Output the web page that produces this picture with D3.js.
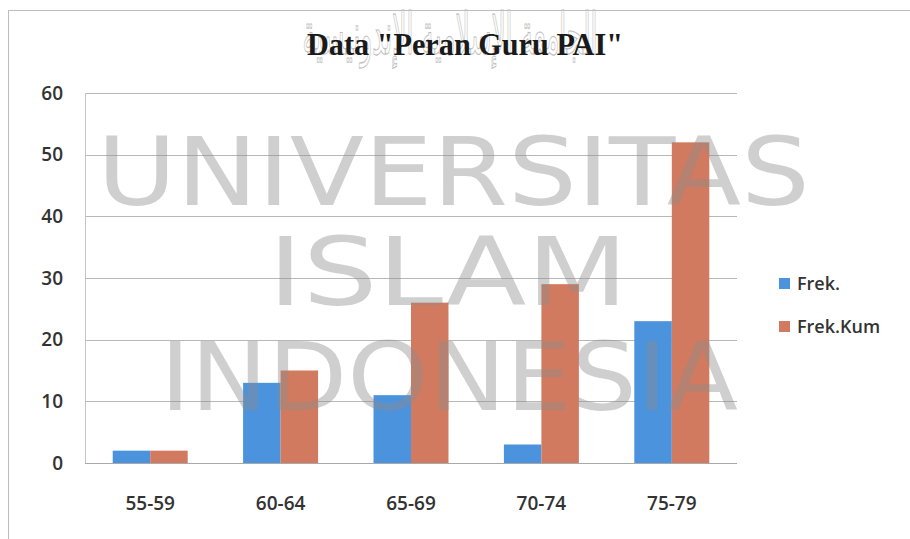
<!DOCTYPE html>
<html>
<head>
<meta charset="utf-8">
<script src="https://cdn.jsdelivr.net/npm/d3@7"></script>
<style>
  body { margin: 0; background: #fff; }
  svg { display: block; }
</style>
</head>
<body>
<svg id="chart" width="910" height="539"></svg>
<script>
// Data
const categories = ['55-59', '60-64', '65-69', '70-74', '75-79'];
const seriesNames = ['Frek.', 'Frek.Kum'];
const frek = [2, 13, 11, 3, 23];
const frekKum = [2, 15, 26, 29, 52];
const yTicks = [0, 10, 20, 30, 40, 50, 60];

const colors = ['#4b93dc', '#d27a60'];

const svg = d3.select('#chart');

// outer chart frame
svg.append('rect')
  .attr('x', 8.5).attr('y', 10.5)
  .attr('width', 920).attr('height', 560)
  .attr('fill', 'none')
  .attr('stroke', '#bdbdbd');

const margin = {top: 93, left: 85, right: 173, bottom: 76};
const width = 910 - margin.left - margin.right,
      height = 539 - margin.top - margin.bottom;

const g = svg.append('g').attr('transform', 'translate(' + margin.left + ',' + margin.top + ')');

const x0 = d3.scaleBand().domain(categories).range([0, width]).paddingInner(0.425).paddingOuter(0.2125);
const x1 = d3.scaleBand().domain(seriesNames).range([0, x0.bandwidth()]);
const y = d3.scaleLinear().domain([0, 60]).range([height, 0]);

// gridlines
g.append('g')
  .selectAll('line')
  .data(yTicks)
  .enter()
  .append('line')
  .attr('x1', 0).attr('x2', width)
  .attr('y1', d => Math.round(y(d)) + 0.5)
  .attr('y2', d => Math.round(y(d)) + 0.5)
  .attr('stroke', d => d === 0 ? '#a8a8a8' : '#b8b8b8')
  .attr('stroke-width', 1.2);

// left axis line
g.append('line')
  .attr('x1', 0.5).attr('x2', 0.5)
  .attr('y1', 0).attr('y2', height)
  .attr('stroke', '#c4c4c4');

const labelFont = 'Open Sans, sans-serif';

// y axis labels
const yAxis = d3.axisLeft(y).tickValues(yTicks).tickSize(0).tickPadding(22);
g.append('g')
  .call(yAxis)
  .call(a => a.select('.domain').remove())
  .selectAll('text')
  .attr('font-family', labelFont)
  .attr('font-weight', 600)
  .attr('font-size', 19)
  .attr('fill', '#333');

// x axis labels
const xAxis = d3.axisBottom(x0).tickSize(0).tickPadding(34);
g.append('g')
  .attr('transform', 'translate(0,' + height + ')')
  .call(xAxis)
  .call(a => a.select('.domain').remove())
  .selectAll('text')
  .attr('font-family', labelFont)
  .attr('font-weight', 600)
  .attr('font-size', 19)
  .attr('fill', '#333');

// bars
const rows = categories.map((c, i) => ({cat: c, values: [frek[i], frekKum[i]]}));

g.selectAll('g.group')
  .data(rows)
  .enter()
  .append('g')
  .attr('class', 'group')
  .attr('transform', d => 'translate(' + x0(d.cat) + ',0)')
  .selectAll('rect')
  .data(d => d.values.map((v, j) => ({name: seriesNames[j], value: v, idx: j})))
  .enter()
  .append('rect')
  .attr('x', d => x1(d.name))
  .attr('y', d => y(d.value))
  .attr('width', x1.bandwidth())
  .attr('height', d => height - y(d.value))
  .attr('fill', d => colors[d.idx]);

// legend
const legend = svg.append('g').attr('transform', 'translate(779, 284)');
seriesNames.forEach((name, i) => {
  const row = legend.append('g').attr('transform', 'translate(0,' + (i * 43) + ')');
  row.append('rect')
    .attr('x', 0).attr('y', -6)
    .attr('width', 11).attr('height', 11)
    .attr('fill', colors[i]);
  row.append('text')
    .attr('x', 18).attr('y', 0)
    .attr('dy', '0.35em')
    .attr('font-family', labelFont)
    .attr('font-weight', 600)
    .attr('font-size', 18)
    .attr('fill', '#333')
    .text(name);
});

// arabic watermark behind the title (stretched tall like the calligraphy)
svg.append('g')
  .attr('transform', 'translate(450, 54) scale(1, 1.7)')
  .append('text')
  .attr('x', 0).attr('y', 0)
  .attr('text-anchor', 'middle')
  .attr('font-family', 'DejaVu Sans, sans-serif')
  .attr('font-size', 34)
  .attr('fill', 'none')
  .attr('stroke', '#bdbdbd')
  .attr('stroke-width', 0.7)
  .attr('textLength', 295)
  .attr('lengthAdjust', 'spacingAndGlyphs')
  .text('الجامعة الإسلامية الإندونيسية');

// title
svg.append('text')
  .attr('x', 465).attr('y', 55)
  .attr('text-anchor', 'middle')
  .attr('font-family', 'Liberation Serif, serif')
  .attr('font-weight', 'bold')
  .attr('font-size', 31)
  .attr('fill', '#1a1a1a')
  .attr('textLength', 316)
  .attr('lengthAdjust', 'spacingAndGlyphs')
  .text('Data "Peran Guru PAI"');

// university watermark
const wmLines = [
  {text: 'UNIVERSITAS', x: 97, y: 205, len: 713},
  {text: 'ISLAM', x: 268, y: 305, len: 360},
  {text: 'INDONESIA', x: 160, y: 410, len: 578}
];
svg.append('g')
  .selectAll('text')
  .data(wmLines)
  .enter()
  .append('text')
  .attr('x', d => d.x).attr('y', d => d.y)
  .attr('font-family', 'DejaVu Sans, sans-serif')
  .attr('font-size', 94)
  .attr('fill', '#8c8c8c')
  .attr('fill-opacity', 0.42)
  .attr('textLength', d => d.len)
  .attr('lengthAdjust', 'spacingAndGlyphs')
  .text(d => d.text);
</script>
</body>
</html>
